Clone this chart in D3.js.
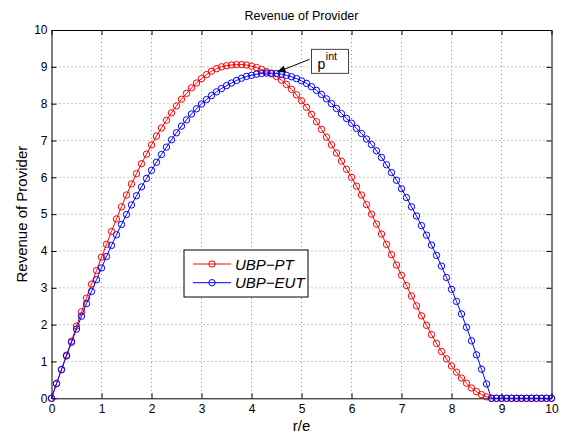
<!DOCTYPE html>
<html>
<head>
<meta charset="utf-8">
<script src="https://cdn.jsdelivr.net/npm/d3@7/dist/d3.min.js"></script>
<style>
  body { margin: 0; background: #fff; }
  svg { display: block; font-family: "Liberation Sans", Arial, Helvetica, sans-serif; }
</style>
</head>
<body>
<div id="chart"></div>
<script>
// r/e values, one point every 0.1
const rOverE = [0,0.1,0.2,0.3,0.4,0.5,0.6,0.7,0.8,0.9,1,1.1,1.2,1.3,1.4,1.5,1.6,1.7,1.8,1.9,2,2.1,2.2,2.3,2.4,2.5,2.6,2.7,2.8,2.9,3,3.1,3.2,3.3,3.4,3.5,3.6,3.7,3.8,3.9,4,4.1,4.2,4.3,4.4,4.5,4.6,4.7,4.8,4.9,5,5.1,5.2,5.3,5.4,5.5,5.6,5.7,5.8,5.9,6,6.1,6.2,6.3,6.4,6.5,6.6,6.7,6.8,6.9,7,7.1,7.2,7.3,7.4,7.5,7.6,7.7,7.8,7.9,8,8.1,8.2,8.3,8.4,8.5,8.6,8.7,8.8,8.9,9,9.1,9.2,9.3,9.4,9.5,9.6,9.7,9.8,9.9,10];

// UBP-PT revenue
const ubpPT = [0,0.40,0.78,1.17,1.55,1.96,2.35,2.72,3.10,3.47,3.83,4.18,4.53,4.87,5.20,5.52,5.82,6.10,6.37,6.63,6.88,7.12,7.34,7.55,7.75,7.94,8.12,8.28,8.43,8.56,8.68,8.79,8.88,8.95,9.00,9.03,9.05,9.06,9.06,9.05,9.02,8.98,8.93,8.87,8.81,8.74,8.64,8.52,8.39,8.24,8.08,7.90,7.71,7.51,7.30,7.09,6.88,6.66,6.44,6.22,6.00,5.76,5.52,5.26,5.00,4.73,4.46,4.18,3.90,3.62,3.34,3.06,2.78,2.51,2.24,1.98,1.73,1.49,1.27,1.07,0.88,0.71,0.55,0.41,0.28,0.18,0.10,0.04,0,0,0,0,0,0,0,0,0,0,0,0,0];

// UBP-EUT revenue
const ubpEUT = [0,0.40,0.78,1.15,1.52,1.88,2.23,2.57,2.90,3.22,3.54,3.85,4.15,4.44,4.72,4.99,5.25,5.50,5.74,5.97,6.19,6.41,6.62,6.82,7.02,7.21,7.39,7.56,7.72,7.86,7.99,8.11,8.22,8.32,8.41,8.49,8.56,8.63,8.69,8.74,8.77,8.80,8.82,8.83,8.83,8.82,8.80,8.77,8.73,8.68,8.62,8.55,8.46,8.36,8.25,8.13,8.00,7.87,7.73,7.60,7.47,7.33,7.19,7.04,6.89,6.72,6.54,6.34,6.13,5.92,5.69,5.45,5.20,4.95,4.69,4.43,4.16,3.88,3.59,3.28,2.96,2.63,2.29,1.93,1.56,1.18,0.79,0.39,0,0,0,0,0,0,0,0,0,0,0,0,0];

const xTicks = [0,1,2,3,4,5,6,7,8,9,10];
const yTicks = [0,1,2,3,4,5,6,7,8,9,10];
const seriesNames = ["UBP\u2212PT", "UBP\u2212EUT"];
const seriesColors = ["#ff0000", "#0000ff"];

const width = 564, height = 434;
const m = { left: 51.5, right: 551.5, top: 30, bottom: 398.3 };

const svg = d3.select("#chart").append("svg")
  .attr("width", width)
  .attr("height", height);

const x = d3.scaleLinear().domain([0, 10]).range([m.left, m.right]);
const y = d3.scaleLinear().domain([0, 10]).range([m.bottom, m.top]);

// dotted grid
svg.append("g").selectAll("line").data(xTicks.slice(1, -1)).join("line")
  .attr("x1", d => x(d)).attr("x2", d => x(d))
  .attr("y1", m.top).attr("y2", m.bottom)
  .attr("stroke", "#777").attr("stroke-width", 0.8).attr("stroke-dasharray", "1,3");
svg.append("g").selectAll("line").data(yTicks.slice(1, -1)).join("line")
  .attr("x1", m.left).attr("x2", m.right)
  .attr("y1", d => y(d)).attr("y2", d => y(d))
  .attr("stroke", "#777").attr("stroke-width", 0.8).attr("stroke-dasharray", "1,3");

// axes, ticks pointing inwards like matlab
const fontSize = "12px";
const gx = svg.append("g").attr("transform", `translate(0,${m.bottom})`)
  .call(d3.axisBottom(x).tickValues(xTicks).tickSizeInner(-5).tickSizeOuter(0).tickPadding(6));
const gy = svg.append("g").attr("transform", `translate(${m.left},0)`)
  .call(d3.axisLeft(y).tickValues(yTicks).tickSizeInner(-5).tickSizeOuter(0).tickPadding(4));
const gt = svg.append("g").attr("transform", `translate(0,${m.top})`)
  .call(d3.axisTop(x).tickValues(xTicks).tickSizeInner(-5).tickSizeOuter(0).tickFormat(""));
const gr = svg.append("g").attr("transform", `translate(${m.right},0)`)
  .call(d3.axisRight(y).tickValues(yTicks).tickSizeInner(-5).tickSizeOuter(0).tickFormat(""));

[gx, gy, gt, gr].forEach(g => {
  g.select(".domain").attr("stroke", "#000").attr("stroke-width", 1);
  g.selectAll(".tick line").attr("stroke", "#000");
  g.selectAll("text").attr("font-size", fontSize).attr("fill", "#000")
    .attr("font-family", "'Liberation Sans', Arial, sans-serif");
});

// series: red first, blue on top
const line = d3.line().x(d => x(d[0])).y(d => y(d[1]));
[ubpPT, ubpEUT].forEach((vals, k) => {
  const pts = rOverE.map((r, i) => [r, vals[i]]);
  svg.append("path").datum(pts)
    .attr("fill", "none")
    .attr("stroke", seriesColors[k])
    .attr("stroke-width", 1)
    .attr("d", line);
  svg.append("g").selectAll("circle").data(pts).join("circle")
    .attr("cx", d => x(d[0]))
    .attr("cy", d => y(d[1]))
    .attr("r", 3.2)
    .attr("fill", "none")
    .attr("stroke", seriesColors[k])
    .attr("stroke-width", 1);
});

// title and axis labels
svg.append("text")
  .attr("x", (m.left + m.right) / 2).attr("y", 20)
  .attr("text-anchor", "middle")
  .attr("font-size", "12.5px")
  .text("Revenue of Provider");

svg.append("text")
  .attr("x", (m.left + m.right) / 2).attr("y", 431)
  .attr("text-anchor", "middle")
  .attr("font-size", "15px")
  .text("r/e");

svg.append("text")
  .attr("transform", `translate(27,${(m.top + m.bottom) / 2}) rotate(-90)`)
  .attr("text-anchor", "middle")
  .attr("font-size", "15px")
  .text("Revenue of Provider");

// legend
const legend = svg.append("g").attr("transform", "translate(184,250)");
legend.append("rect")
  .attr("width", 124).attr("height", 47)
  .attr("fill", "#fff").attr("stroke", "#000").attr("stroke-width", 1);
seriesNames.forEach((name, k) => {
  const ly = 14 + k * 18.7;
  legend.append("line")
    .attr("x1", 9).attr("x2", 47).attr("y1", ly).attr("y2", ly)
    .attr("stroke", seriesColors[k]).attr("stroke-width", 1);
  legend.append("circle")
    .attr("cx", 28).attr("cy", ly).attr("r", 3.2)
    .attr("fill", "none").attr("stroke", seriesColors[k]).attr("stroke-width", 1);
  legend.append("text")
    .attr("x", 51).attr("y", ly + 5.5)
    .attr("font-size", "15px").attr("font-style", "italic")
    .text(name);
});

// p^int annotation pointing at the crossing
const tipX = x(4.5), tipY = y(8.85);
const boxX = tipX + 35, boxY = tipY - 23;
const tailX = boxX - 2, tailY = boxY + 10;
const ang = Math.atan2(tipY - tailY, tipX - tailX);
svg.append("line")
  .attr("x1", tailX).attr("y1", tailY)
  .attr("x2", tipX - 7 * Math.cos(ang)).attr("y2", tipY - 7 * Math.sin(ang))
  .attr("stroke", "#000").attr("stroke-width", 1);
const ah = 9, aw = 3.5;
const bx = tipX - ah * Math.cos(ang), by = tipY - ah * Math.sin(ang);
svg.append("path")
  .attr("d", `M${tipX},${tipY} L${bx - aw * Math.sin(ang)},${by + aw * Math.cos(ang)} L${bx + aw * Math.sin(ang)},${by - aw * Math.cos(ang)} Z`)
  .attr("fill", "#000");
svg.append("rect")
  .attr("x", boxX).attr("y", boxY).attr("width", 37).attr("height", 24)
  .attr("fill", "#fff").attr("stroke", "#444").attr("stroke-width", 1);
const ann = svg.append("text").attr("x", boxX + 6).attr("y", boxY + 19.5).attr("font-size", "14px");
ann.append("tspan").text("p");
ann.append("tspan").attr("font-size", "10.5px").attr("dy", -8.5).attr("dx", 0.5).text("int");
</script>
</body>
</html>
